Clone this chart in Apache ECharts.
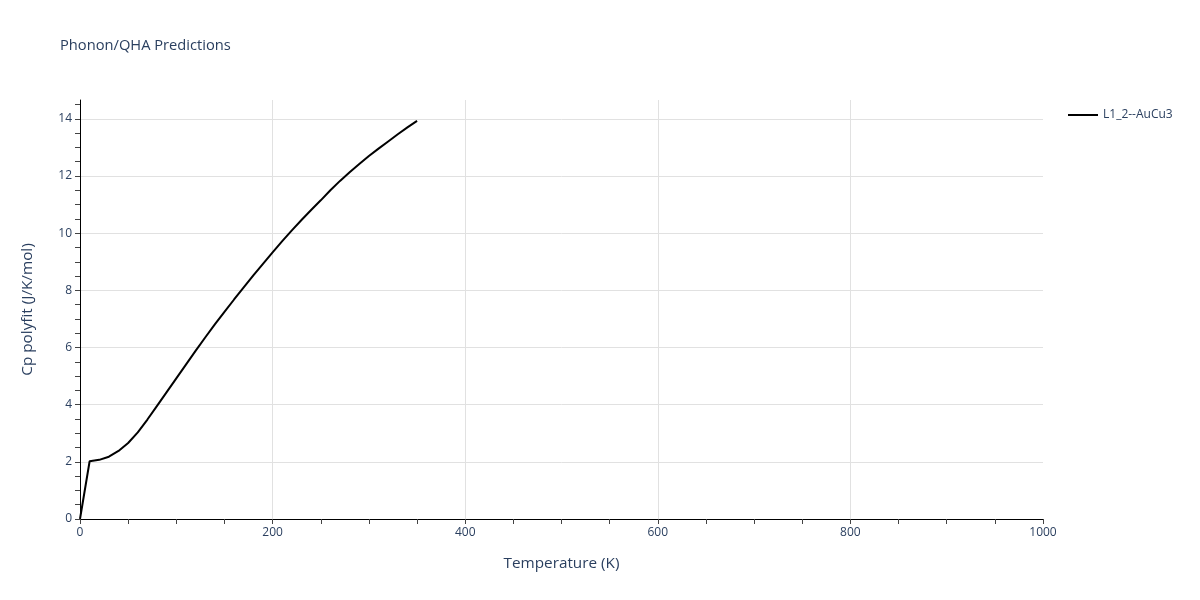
<!DOCTYPE html>
<html>
<head>
<meta charset="utf-8">
<script src="https://cdn.jsdelivr.net/npm/echarts@6/dist/echarts.min.js"></script>
<style>html,body{margin:0;padding:0;background:#fff}#c{width:1200px;height:600px}</style>
</head>
<body>
<div id="c"></div>
<script>
const temperatures = [0, 10, 20, 30, 40, 50, 60, 70, 80, 90, 100, 110, 120, 130, 140, 150, 160, 170, 180, 190, 200, 210, 220, 230, 240, 250, 260, 270, 280, 290, 300, 310, 320, 330, 340, 350];
const cpValues = [0, 2.02, 2.07, 2.18, 2.38, 2.66, 3.03, 3.48, 3.96, 4.44, 4.92, 5.4, 5.88, 6.35, 6.81, 7.25, 7.68, 8.1, 8.52, 8.93, 9.33, 9.72, 10.1, 10.46, 10.81, 11.15, 11.5, 11.83, 12.13, 12.42, 12.7, 12.96, 13.21, 13.46, 13.7, 13.93];
const seriesName = 'L1_2--AuCu3';
const xTicks = [0, 50, 100, 150, 200, 250, 300, 350, 400, 450, 500, 550, 600, 650, 700, 750, 800, 850, 900, 950, 1000];
const yTicks = [0, 0.5, 1, 1.5, 2, 2.5, 3, 3.5, 4, 4.5, 5, 5.5, 6, 6.5, 7, 7.5, 8, 8.5, 9, 9.5, 10, 10.5, 11, 11.5, 12, 12.5, 13, 13.5, 14, 14.5];

const textColor = '#2a3f5f';
const font = '"Open Sans", "Noto Sans", sans-serif';
const X_MIN = 0, X_MAX = 1000, Y_MIN = 0, Y_MAX = 14.66;
const chart = echarts.init(document.getElementById('c'), null, {renderer: 'canvas'});
chart.setOption({
  animation: false,
  backgroundColor: '#fff',
  title: {
    text: 'Phonon/QHA Predictions',
    left: 60, top: 38, padding: 0,
    textStyle: {color: textColor, fontSize: 14.7, fontWeight: 'normal', fontFamily: font}
  },
  legend: {
    data: [seriesName],
    left: 1068, top: 109, padding: 0,
    itemWidth: 30, itemHeight: 2, itemGap: 6,
    icon: 'rect',
    textStyle: {color: textColor, fontSize: 12, fontFamily: font}
  },
  grid: {left: 80, right: 157, top: 100, bottom: 81, containLabel: false},
  xAxis: [{
    type: 'value', min: X_MIN, max: X_MAX, interval: 200,
    name: 'Temperature (K)', nameLocation: 'middle', nameGap: 37,
    nameTextStyle: {color: textColor, fontSize: 15.3, fontFamily: font},
    axisLine: {show: true, onZero: false, lineStyle: {color: '#000', width: 1}},
    axisTick: {show: false},
    axisLabel: {color: textColor, fontSize: 12, fontFamily: font, margin: 8, formatter: v => String(v)},
    splitLine: {show: true, showMinLine: false, showMaxLine: false, lineStyle: {color: '#e1e1e1', width: 1}}
  }, {
    type: 'value', min: X_MIN, max: X_MAX, position: 'bottom',
    axisLine: {show: false, onZero: false},
    axisTick: {show: true, length: 5, customValues: xTicks, lineStyle: {color: '#444'}},
    axisLabel: {show: false},
    splitLine: {show: false}
  }],
  yAxis: [{
    type: 'value', min: Y_MIN, max: Y_MAX, interval: 2,
    name: 'Cp polyfit (J/K/mol)', nameLocation: 'middle', nameGap: 45, nameRotate: 90,
    nameTextStyle: {color: textColor, fontSize: 15.3, fontFamily: font},
    axisLine: {show: true, onZero: false, lineStyle: {color: '#000', width: 1}},
    axisTick: {show: false},
    axisLabel: {color: textColor, fontSize: 12, fontFamily: font, margin: 8, showMaxLabel: false},
    splitLine: {show: true, showMinLine: false, showMaxLine: false, lineStyle: {color: '#e1e1e1', width: 1}}
  }, {
    type: 'value', min: Y_MIN, max: Y_MAX, position: 'left',
    axisLine: {show: false, onZero: false},
    axisTick: {show: true, length: 5, customValues: yTicks, lineStyle: {color: '#444'}},
    axisLabel: {show: false},
    splitLine: {show: false}
  }],
  series: [{
    name: seriesName,
    type: 'line',
    xAxisIndex: 0, yAxisIndex: 0,
    data: temperatures.map((t, i) => [t, cpValues[i]]),
    showSymbol: false,
    symbol: 'none',
    lineStyle: {color: '#000', width: 2},
    itemStyle: {color: '#000'}
  }]
});
</script>
</body>
</html>
